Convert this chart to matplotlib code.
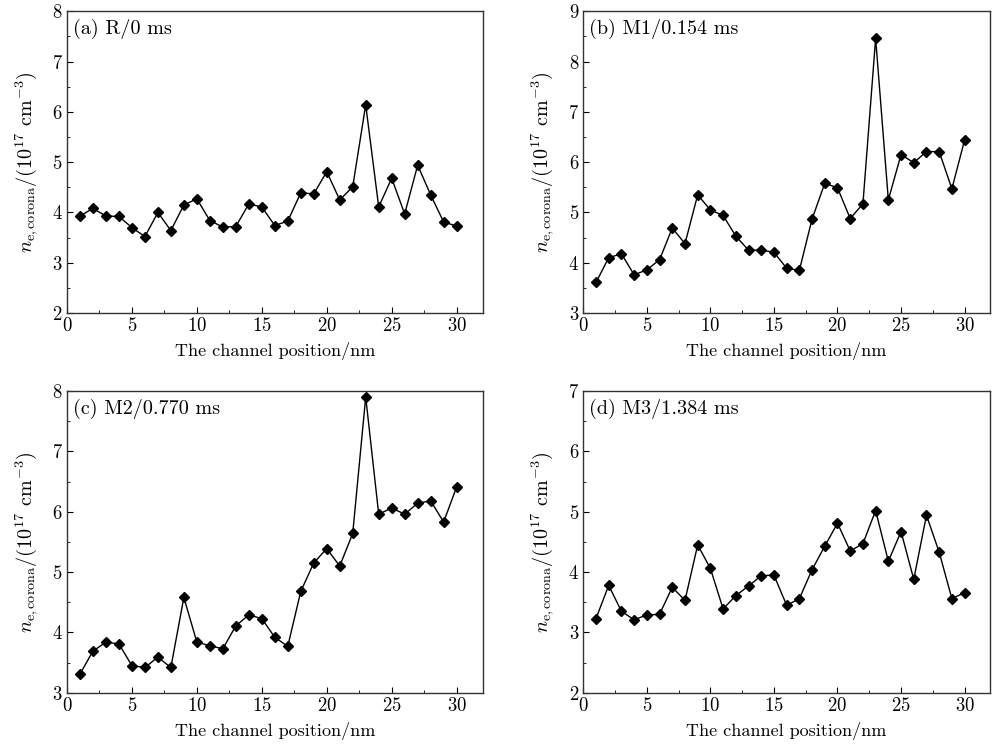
import numpy as np
import matplotlib
matplotlib.use("Agg")
import matplotlib.pyplot as plt
from matplotlib.ticker import MultipleLocator

plt.rcParams['font.family'] = 'serif'
plt.rcParams['font.serif'] = ['cmr10', 'DejaVu Serif']
plt.rcParams['mathtext.fontset'] = 'cm'
plt.rcParams['axes.formatter.use_mathtext'] = True

# channel positions
positions = np.arange(1, 31)

# electron density in the corona, 10^17 cm^-3
ne_r = [3.93, 4.08, 3.93, 3.92, 3.70, 3.52, 4.00, 3.64, 4.15, 4.27,
        3.84, 3.71, 3.72, 4.17, 4.11, 3.74, 3.83, 4.39, 4.37, 4.81,
        4.25, 4.51, 6.14, 4.11, 4.68, 3.97, 4.94, 4.35, 3.81, 3.73]
ne_m1 = [3.61, 4.10, 4.18, 3.76, 3.86, 4.06, 4.69, 4.38, 5.35, 5.05,
         4.94, 4.53, 4.25, 4.25, 4.21, 3.89, 3.85, 4.87, 5.58, 5.49,
         4.88, 5.17, 8.46, 5.25, 6.15, 5.99, 6.21, 6.21, 5.47, 6.44]
ne_m2 = [3.31, 3.69, 3.84, 3.81, 3.45, 3.42, 3.59, 3.42, 4.58, 3.84,
         3.78, 3.73, 4.11, 4.29, 4.23, 3.92, 3.77, 4.68, 5.15, 5.39,
         5.10, 5.64, 7.90, 5.96, 6.06, 5.96, 6.14, 6.18, 5.83, 6.41]
ne_m3 = [3.23, 3.78, 3.35, 3.21, 3.29, 3.30, 3.75, 3.53, 4.45, 4.06,
         3.39, 3.61, 3.77, 3.94, 3.95, 3.45, 3.56, 4.04, 4.43, 4.81,
         4.35, 4.47, 5.02, 4.18, 4.67, 3.88, 4.94, 4.33, 3.56, 3.66]

panel_labels = ['(a) R/0 ms', '(b) M1/0.154 ms', '(c) M2/0.770 ms', '(d) M3/1.384 ms']
y_limits = [(2, 8), (3, 9), (3, 8), (2, 7)]
series = [ne_r, ne_m1, ne_m2, ne_m3]

# axes rectangles in figure fractions (left, bottom, width, height)
rects = [(0.0675, 0.582, 0.419, 0.403),
         (0.588, 0.582, 0.410, 0.403),
         (0.0675, 0.075, 0.419, 0.403),
         (0.588, 0.075, 0.410, 0.403)]

fig = plt.figure(figsize=(9.92, 7.49), dpi=100)

for rect, vals, lab, ylim in zip(rects, series, panel_labels, y_limits):
    ax = fig.add_axes(rect)
    ax.plot(positions, vals, color='black', lw=1.0, marker='D', ms=5.5,
            mfc='black', mec='black')
    ax.set_xlim(0, 32)
    ax.set_ylim(*ylim)
    ax.xaxis.set_major_locator(MultipleLocator(5))
    ax.xaxis.set_minor_locator(MultipleLocator(2.5))
    ax.yaxis.set_major_locator(MultipleLocator(1))
    ax.yaxis.set_minor_locator(MultipleLocator(0.5))
    ax.tick_params(which='both', direction='in', top=False, right=False,
                   labelsize=13.5, pad=3)
    ax.tick_params(which='major', length=4)
    ax.tick_params(which='minor', length=2.5)
    for sp in ax.spines.values():
        sp.set_linewidth(1.0)
        sp.set_color('#333333')
    ax.text(0.015, 0.975, lab, transform=ax.transAxes, fontsize=14.5,
            va='top', ha='left')
    ax.set_xlabel('The channel position/nm', fontsize=13, labelpad=5)
    ax.set_ylabel(r'$n_{\rm e,corona}/(10^{17}$ cm$^{-3}$)', fontsize=14.5,
                  labelpad=8)

fig.savefig('out.png', dpi=100)
